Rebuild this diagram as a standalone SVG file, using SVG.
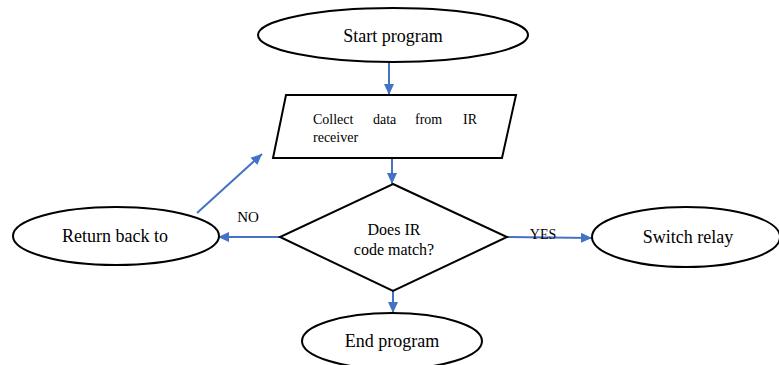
<svg xmlns="http://www.w3.org/2000/svg" width="779" height="365" viewBox="0 0 779 365">
<defs>
<marker id="ah" markerUnits="userSpaceOnUse" markerWidth="12" markerHeight="12" viewBox="0 0 12 12" refX="11" refY="6" orient="auto">
<path d="M0,1 L11,6 L0,11 Z" fill="#4472C4"/>
</marker>
</defs>
<style>
.shape{fill:#fff;stroke:#000;stroke-width:2}
.t{font-family:"Liberation Serif","Times New Roman",serif;fill:#000}
.c{stroke:#4472C4;stroke-width:2;fill:none;marker-end:url(#ah)}
</style>
<rect width="779" height="365" fill="#fff"/>
<g id="connectors">
<line class="c" x1="389" y1="62" x2="389" y2="95"/>
<line class="c" x1="392" y1="158" x2="392" y2="184"/>
<line class="c" x1="280" y1="237" x2="218" y2="237"/>
<line class="c" x1="507" y1="237" x2="592" y2="238"/>
<line class="c" x1="393" y1="291" x2="393" y2="313"/>
<line class="c" x1="197" y1="213" x2="262" y2="154"/>
<text class="t" x="248" y="222" font-size="15" text-anchor="middle">NO</text>
<text class="t" x="543" y="239" font-size="14" text-anchor="middle">YES</text>
</g>
<g id="start">
<ellipse class="shape" cx="393" cy="35" rx="135" ry="27"/>
<text class="t" x="393" y="42" font-size="18" text-anchor="middle">Start program</text>
</g>
<g id="collect">
<polygon class="shape" points="286,95 516,95 502,158 273,158"/>
<text class="t" font-size="14" y="124"><tspan x="313">Collect</tspan><tspan x="373">data</tspan><tspan x="415">from</tspan><tspan x="463">IR</tspan></text>
<text class="t" font-size="14" x="313" y="142">receiver</text>
</g>
<g id="decision">
<polygon class="shape" points="393,184 507,237 393,291 280,237"/>
<text class="t" x="394" y="235" font-size="16" text-anchor="middle">Does IR</text>
<text class="t" x="394" y="255" font-size="16" text-anchor="middle">code match?</text>
</g>
<g id="return">
<ellipse class="shape" cx="116" cy="236" rx="103" ry="29"/>
<text class="t" x="115" y="242" font-size="18" text-anchor="middle">Return back to</text>
</g>
<g id="switch">
<ellipse class="shape" cx="686" cy="237" rx="94" ry="30"/>
<text class="t" x="688" y="243" font-size="18" text-anchor="middle">Switch relay</text>
</g>
<g id="end">
<ellipse class="shape" cx="392" cy="341" rx="90" ry="28"/>
<text class="t" x="392" y="347" font-size="18" text-anchor="middle">End program</text>
</g>
</svg>
